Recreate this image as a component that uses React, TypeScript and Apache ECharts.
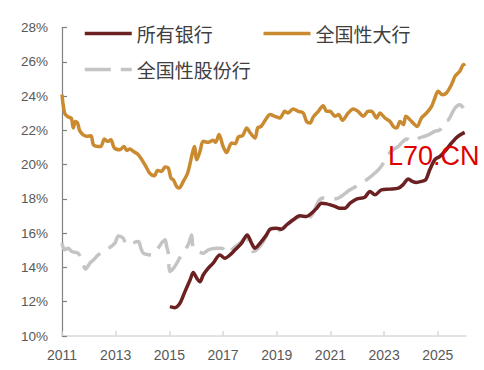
import React, { useEffect, useRef } from "react";
import * as echarts from "echarts";

const seriesNames = ["所有银行", "全国性大行", "全国性股份行"];

const allBanks: [number, number][] = [
  [2015.02, 11.71], [2015.2, 11.65], [2015.39, 11.9], [2015.58, 12.59], [2015.77, 13.27],
  [2015.89, 13.7], [2016.02, 13.37], [2016.14, 13.17], [2016.26, 13.56], [2016.45, 13.96],
  [2016.63, 14.25], [2016.88, 14.73], [2017.07, 14.54], [2017.26, 14.73], [2017.45, 15.03],
  [2017.69, 15.42], [2017.9, 15.9], [2018.06, 15.42], [2018.19, 15.12], [2018.38, 15.42],
  [2018.62, 15.9], [2018.75, 16.23], [2018.99, 16.29], [2019.18, 16.23], [2019.37, 16.49],
  [2019.61, 16.78], [2019.86, 17.01], [2020.11, 16.97], [2020.3, 17.17], [2020.49, 17.46],
  [2020.67, 17.75], [2020.86, 17.71], [2021.0, 17.65], [2021.17, 17.56], [2021.35, 17.46],
  [2021.54, 17.46], [2021.73, 17.75], [2021.97, 17.99], [2022.28, 18.1], [2022.47, 18.43],
  [2022.66, 18.24], [2022.9, 18.53], [2023.22, 18.57], [2023.53, 18.63], [2023.7, 18.82],
  [2023.9, 19.16], [2024.05, 19.02], [2024.2, 18.96], [2024.39, 19.02], [2024.55, 19.12],
  [2024.7, 19.7], [2024.89, 20.29], [2025.08, 20.48], [2025.26, 20.77], [2025.51, 21.26],
  [2025.75, 21.65], [2026.0, 21.88],
];

const bigBanks: [number, number][] = [
  [2011.0, 24.08], [2011.1, 23.0], [2011.23, 22.78], [2011.35, 22.7], [2011.42, 22.14],
  [2011.5, 22.52], [2011.58, 22.43], [2011.67, 21.94], [2011.92, 21.65], [2012.08, 21.69],
  [2012.17, 21.16], [2012.35, 21.06], [2012.45, 21.06], [2012.58, 21.5], [2012.7, 21.36],
  [2012.82, 21.45], [2012.95, 20.97], [2013.16, 20.87], [2013.31, 21.06], [2013.41, 20.83],
  [2013.53, 20.91], [2013.66, 20.77], [2013.84, 20.58], [2014.09, 19.99], [2014.28, 19.47],
  [2014.44, 19.35], [2014.56, 19.66], [2014.71, 19.6], [2014.84, 19.86], [2014.96, 19.8],
  [2015.06, 19.21], [2015.15, 19.11], [2015.27, 18.72], [2015.36, 18.63], [2015.52, 19.02],
  [2015.68, 19.51], [2015.83, 20.48], [2015.93, 21.06], [2016.02, 20.28], [2016.14, 20.77],
  [2016.26, 21.36], [2016.45, 21.3], [2016.63, 21.42], [2016.72, 21.3], [2016.85, 21.75],
  [2017.0, 21.06], [2017.13, 20.71], [2017.32, 21.26], [2017.45, 21.22], [2017.57, 21.61],
  [2017.73, 21.69], [2017.88, 22.14], [2018.0, 21.88], [2018.19, 21.55], [2018.29, 22.14],
  [2018.42, 22.24], [2018.6, 22.66], [2018.75, 22.92], [2018.93, 22.82], [2019.12, 22.72],
  [2019.3, 23.11], [2019.42, 23.01], [2019.61, 23.25], [2019.8, 23.11], [2019.99, 23.01],
  [2020.11, 22.52], [2020.24, 22.43], [2020.36, 22.78], [2020.55, 23.11], [2020.73, 23.44],
  [2020.86, 23.11], [2020.98, 23.11], [2021.17, 22.82], [2021.3, 22.92], [2021.45, 22.58],
  [2021.66, 23.01], [2021.85, 23.25], [2022.03, 23.11], [2022.22, 22.82], [2022.41, 23.11],
  [2022.53, 23.11], [2022.72, 22.72], [2022.84, 23.01], [2023.03, 22.72], [2023.22, 22.52],
  [2023.34, 22.23], [2023.47, 22.14], [2023.59, 22.52], [2023.72, 22.33], [2023.81, 22.82],
  [2024.02, 22.52], [2024.23, 22.23], [2024.39, 22.72], [2024.58, 23.01], [2024.77, 23.4],
  [2024.89, 23.89], [2025.01, 24.28], [2025.17, 24.08], [2025.32, 24.18], [2025.51, 24.67],
  [2025.64, 25.15], [2025.82, 25.45], [2025.96, 25.84], [2026.0, 25.75],
];

const jointStock: [number, number][] = [
  [2011.0, 15.42], [2011.1, 15.03], [2011.23, 15.12], [2011.36, 14.93], [2011.6, 14.83],
  [2011.73, 14.44], [2011.88, 13.9], [2012.04, 14.25], [2012.17, 14.44], [2012.35, 14.73],
  [2012.7, 15.07], [2012.97, 15.42], [2013.1, 15.84], [2013.28, 15.71], [2013.41, 15.32],
  [2013.84, 15.51], [2013.94, 15.12], [2014.03, 14.83], [2014.34, 14.73], [2014.71, 15.42],
  [2014.84, 15.61], [2014.9, 15.22], [2014.96, 14.83], [2015.02, 13.76], [2015.2, 14.05],
  [2015.45, 14.73], [2015.7, 15.32], [2015.83, 15.9], [2015.89, 15.12], [2016.08, 14.93],
  [2016.26, 14.83], [2016.45, 15.03], [2016.76, 15.12], [2016.95, 15.12], [2017.19, 14.83],
  [2017.38, 15.12], [2017.63, 15.42], [2017.88, 15.8], [2018.0, 15.22], [2018.12, 14.93],
  [2018.31, 15.12], [2018.5, 15.51], [2018.68, 16.0], [2018.87, 16.0], [2019.12, 16.19],
  [2019.3, 16.39], [2019.55, 16.68], [2019.74, 16.88], [2019.99, 16.97], [2020.17, 16.88],
  [2020.36, 17.17], [2020.55, 17.85], [2020.73, 18.05], [2020.98, 18.0], [2021.1, 17.99],
  [2021.3, 18.05], [2021.73, 18.53], [2021.91, 18.69], [2022.1, 18.92], [2022.35, 19.12],
  [2022.66, 19.51], [2022.84, 19.8], [2022.97, 20.09], [2023.15, 20.58], [2023.34, 20.87],
  [2023.53, 21.06], [2023.71, 21.36], [2023.84, 21.5], [2024.02, 21.36], [2024.3, 21.55],
  [2024.6, 21.7], [2024.9, 21.95], [2025.08, 22.04], [2025.26, 22.52], [2025.4, 22.62],
  [2025.64, 23.3], [2025.82, 23.5], [2026.0, 23.2],
];

const yearTicks = [2011, 2013, 2015, 2017, 2019, 2021, 2023, 2025];
const watermark = "L70.CN";

const colors = ["#6b2121", "#c98a30", "#c4c4c4"];

export default function App() {
  const ref = useRef<HTMLDivElement>(null);
  useEffect(() => {
    document.body.style.margin = "0";
    if (!ref.current) return;
    const chart = echarts.init(ref.current, null, { renderer: "svg" });
    const cjk = "'Noto Sans CJK SC', 'Noto Sans', sans-serif";
    const latin = "'Liberation Sans', Arial, sans-serif";
    const legendCommon = {
      itemWidth: 47,
      itemHeight: 14,
      itemGap: 49,
      itemStyle: { opacity: 0, borderWidth: 0 },
      lineStyle: { width: 3.5 },
      textStyle: { fontSize: 19, color: "#404040", fontFamily: cjk },
    };
    chart.setOption({
      animation: false,
      grid: { left: 62, right: 18, top: 27.5, bottom: 34 },
      legend: [
        { ...legendCommon, data: [seriesNames[0], seriesNames[1]], left: 78, top: 19 },
        { ...legendCommon, data: [seriesNames[2]], left: 78, top: 55 },
      ],
      xAxis: {
        type: "value",
        min: 2011,
        max: 2026.05,
        interval: 2,
        axisLine: { show: true, lineStyle: { color: "#d9d9d9", width: 1.5 } },
        axisTick: { show: true, inside: true, length: 5, lineStyle: { color: "#d9d9d9", width: 1.5 } },
        axisLabel: {
          color: "#595959",
          fontSize: 14,
          fontFamily: latin,
          margin: 12,
          showMaxLabel: false,
          formatter: (v: number) => (yearTicks.includes(Math.round(v * 1000) / 1000) ? String(v) : ""),
        },
        splitLine: { show: false },
      },
      yAxis: {
        type: "value",
        min: 10,
        max: 28,
        interval: 2,
        axisLine: { show: true, lineStyle: { color: "#808080", width: 1.2 } },
        axisTick: { show: true, inside: true, length: 5, lineStyle: { color: "#808080", width: 1.2 } },
        axisLabel: { color: "#595959", fontSize: 13.5, fontFamily: latin, margin: 14, formatter: "{value}%" },
        splitLine: { show: false },
      },
      graphic: [
        {
          type: "text",
          left: 388,
          top: 142,
          z: 100,
          style: { text: watermark, fill: "#e00000", fontSize: 27, fontFamily: latin },
        },
      ],
      series: [
        {
          name: seriesNames[0],
          type: "line",
          data: allBanks,
          symbol: "none",
          smooth: 0.3,
          z: 4,
          lineStyle: { color: colors[0], width: 3.5 },
          itemStyle: { color: colors[0] },
        },
        {
          name: seriesNames[1],
          type: "line",
          data: bigBanks,
          symbol: "none",
          smooth: 0.3,
          z: 3,
          lineStyle: { color: colors[1], width: 3.5 },
          itemStyle: { color: colors[1] },
        },
        {
          name: seriesNames[2],
          type: "line",
          data: jointStock,
          symbol: "none",
          smooth: 0.3,
          z: 2,
          lineStyle: { color: colors[2], width: 3.5, type: [26, 10] },
          itemStyle: { color: colors[2] },
        },
      ],
    });
    return () => chart.dispose();
  }, []);
  return <div ref={ref} style={{ width: 484, height: 370 }} />;
}
